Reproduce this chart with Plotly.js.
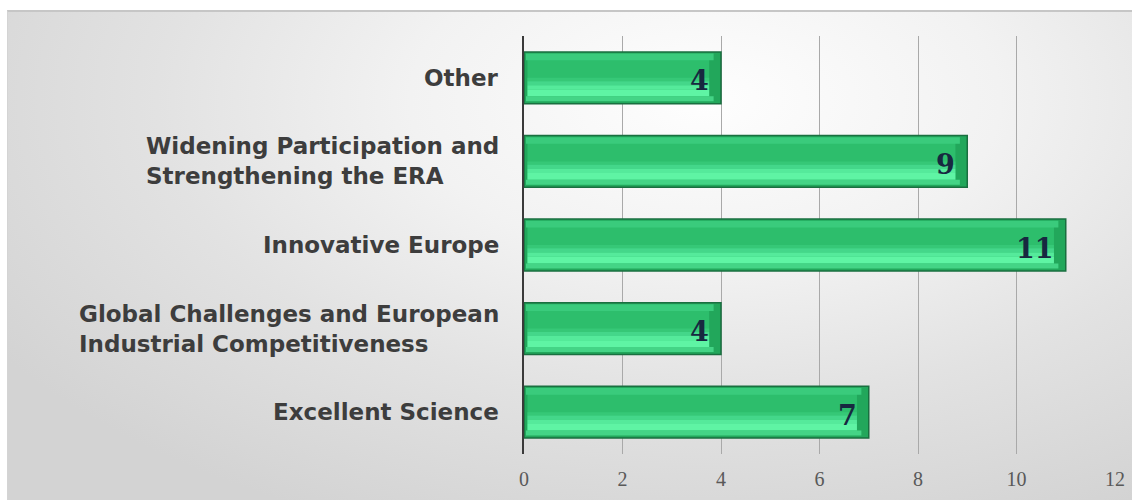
<!DOCTYPE html>
<html>
<head>
<meta charset="utf-8">
<script src="https://cdn.plot.ly/plotly-3.0.1.min.js"></script>
<style>
  html, body { margin: 0; padding: 0; width: 1132px; height: 500px; overflow: hidden; background: #ffffff; }
  #bg { position: absolute; left: 7px; top: 10px; width: 1125px; height: 490px;
        border-top: 2px solid #c6c6c6; border-left: 1px solid #d4d4d4; box-sizing: border-box;
        background: radial-gradient(ellipse 75% 95% at 62% 18%, #fefefe 0%, #f2f2f2 35%, #e2e2e2 65%, #d3d3d3 100%); }
  #chart { position: absolute; left: 0; top: 0; width: 1132px; height: 500px; }
</style>
</head>
<body>
<div id="bg"></div>
<div id="chart"></div>
<script>
// Data (bottom to top)
var categories = [
  "Excellent Science",
  "Global Challenges and European<br>Industrial Competitiveness",
  "Innovative Europe",
  "Widening Participation and<br>Strengthening the ERA",
  "Other"
];
var values = [7, 4, 11, 9, 4];
var tickValues = [0, 2, 4, 6, 8, 10, 12];

var idx = categories.map(function (_, i) { return i; });

function strip(offset, width, color, inset0, inset1) {
  return {
    type: "bar", orientation: "h", y: idx,
    base: values.map(function () { return inset0; }),
    x: values.map(function (v) { return v - inset0 - inset1; }),
    offset: offset, width: width,
    marker: { color: color, line: { width: 0 } },
    hoverinfo: "skip", showlegend: false
  };
}

var traces = [
  {
    type: "bar", orientation: "h", y: idx, x: values,
    offset: -0.31, width: 0.62,
    marker: { color: "#22a75b", line: { color: "#1a6f40", width: 1.5 } },
    hoverinfo: "x", showlegend: false
  },
  strip(-0.25, 0.50, "#2dbe6c", 0.07, 0.24),
  strip(0.21, 0.08, "#3acb7c", 0.04, 0.15),
  strip(-0.04, 0.04, "#36c877", 0.07, 0.24),
  strip(-0.09, 0.05, "#44d78a", 0.07, 0.24),
  strip(-0.14, 0.05, "#55ea9b", 0.07, 0.24),
  strip(-0.22, 0.08, "#5ff4a4", 0.07, 0.24),
  strip(-0.28, 0.06, "#44d486", 0.04, 0.15)
];

var annotations = [];
categories.forEach(function (c, i) {
  annotations.push({
    xref: "paper", yref: "y", x: 0, y: i, xanchor: "right", yanchor: "middle",
    xshift: -23, text: c, showarrow: false, align: "left",
    font: { family: "DejaVu Sans, Arial, sans-serif", size: 23, color: "#3d3d3d", weight: "bold" }
  });
  annotations.push({
    xref: "x", yref: "y", x: values[i], y: i, xanchor: "right", yanchor: "middle",
    xshift: -10, yshift: -3, text: "<b>" + values[i] + "</b>", showarrow: false,
    font: { family: "DejaVu Serif, Liberation Serif, serif", size: 27, color: "#172840" }
  });
});

var layout = {
  width: 1132, height: 500,
  margin: { l: 524, r: 16, t: 36, b: 46 },
  paper_bgcolor: "rgba(0,0,0,0)",
  plot_bgcolor: "rgba(0,0,0,0)",
  barmode: "overlay",
  showlegend: false,
  xaxis: {
    range: [0, 12.02], tickvals: tickValues, ticktext: tickValues.map(String),
    showgrid: true, gridcolor: "#a9a9a9", gridwidth: 1,
    zeroline: false, showline: false, ticks: "",
    ticklabelstandoff: 11,
    tickfont: { family: "Liberation Serif, serif", size: 20, color: "#595959" }
  },
  yaxis: {
    range: [-0.5, 4.5], showticklabels: false, showgrid: false, zeroline: false,
    showline: true, linecolor: "#3a3a3a", linewidth: 2.5, ticks: ""
  },
  annotations: annotations
};

Plotly.newPlot("chart", traces, layout, { displayModeBar: false, staticPlot: true });
</script>
</body>
</html>
